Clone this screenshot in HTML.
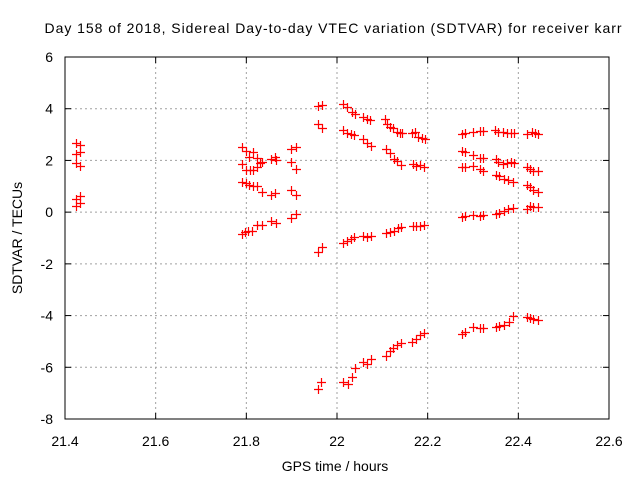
<!DOCTYPE html>
<html><head><meta charset="utf-8"><style>
html,body{margin:0;padding:0;background:#fff}
svg{display:block;font-family:"Liberation Sans",sans-serif}
</style></head><body>
<svg id="chart" width="640" height="480" viewBox="0 0 640 480" xmlns="http://www.w3.org/2000/svg">
<rect width="640" height="480" fill="#fff"/>
<text x="333" y="33" font-size="14" text-anchor="middle" textLength="577">Day 158 of 2018, Sidereal Day-to-day VTEC variation (SDTVAR) for receiver karr</text>
<g id="grid"></g>
<g id="axes"></g>
<g id="marks"></g>
<text x="335" y="471" font-size="14" text-anchor="middle">GPS time / hours</text>
<text x="0" y="0" font-size="14" text-anchor="middle" transform="translate(22,238) rotate(-90)">SDTVAR / TECUs</text>
</svg>
<script>
const xTicks=[21.4,21.6,21.8,22,22.2,22.4,22.6];
const xTickLabels=["21.4","21.6","21.8","22","22.2","22.4","22.6"];
const yTicks=[-8,-6,-4,-2,0,2,4,6];
const yTickLabels=["-8","-6","-4","-2","0","2","4","6"];
const times=[
21.424,21.433,21.424,21.433,21.424,21.433,21.424,21.433,21.424,21.433,
21.790,21.799,21.790,21.806,21.815,21.824,21.830,21.835,21.799,21.808,21.815,21.823,21.854,21.863,21.865,21.899,21.909,21.899,21.909,
21.790,21.799,21.806,21.815,21.824,21.834,21.854,21.863,21.899,21.909,
21.790,21.797,21.804,21.813,21.824,21.834,21.854,21.865,21.899,21.909,
21.959,21.966,21.957,21.966,21.959,21.966,21.959,21.965,
22.014,22.021,22.032,22.040,22.058,22.066,22.073,22.106,22.111,22.117,22.124,22.132,22.139,22.143,22.165,22.172,22.179,22.187,22.194,
22.014,22.021,22.030,22.038,22.058,22.067,22.074,22.108,22.117,22.126,22.133,22.141,22.167,22.174,22.183,22.192,
22.014,22.021,22.030,22.038,22.058,22.067,22.075,22.108,22.117,22.126,22.135,22.141,22.167,22.174,22.183,22.192,
22.014,22.024,22.034,22.040,22.057,22.066,22.075,22.108,22.117,22.124,22.132,22.141,22.166,22.174,22.183,22.192,
22.276,22.282,22.301,22.315,22.323,22.349,22.356,22.366,22.374,22.383,22.391,22.419,22.430,22.437,22.443,
22.276,22.282,22.301,22.315,22.323,22.350,22.356,22.366,22.374,22.383,22.391,22.419,22.426,22.433,22.443,
22.276,22.282,22.301,22.315,22.323,22.350,22.358,22.368,22.378,22.389,22.419,22.426,22.433,22.443,
22.276,22.282,22.301,22.315,22.323,22.350,22.358,22.368,22.378,22.389,22.419,22.426,22.433,22.443,
22.276,22.282,22.301,22.315,22.323,22.350,22.358,22.368,22.380,22.389,22.419,22.426,22.433,22.443
];
const values=[
2.66,2.60,2.25,2.33,1.90,1.80,0.51,0.62,0.24,0.35,
2.53,2.38,1.86,2.14,2.31,2.08,1.91,1.93,1.63,1.63,1.63,1.76,2.04,2.14,2.02,2.43,2.53,1.95,1.67,
1.18,1.14,1.05,1.01,1.01,0.79,0.66,0.73,0.86,0.65,
-0.86,-0.76,-0.72,-0.72,-0.50,-0.50,-0.34,-0.43,-0.21,-0.07,
4.10,4.14,3.40,3.27,-1.55,-1.34,-6.85,-6.58,
4.18,4.08,3.88,3.78,3.67,3.59,3.56,3.59,3.41,3.28,3.24,3.11,3.05,3.05,3.07,3.11,2.92,2.86,2.82,
3.18,3.05,3.01,2.98,2.83,2.66,2.56,2.44,2.28,2.06,1.99,1.82,1.86,1.78,1.82,1.73,
-1.20,-1.10,-1.04,-0.95,-0.92,-0.95,-0.92,-0.82,-0.76,-0.72,-0.63,-0.59,-0.54,-0.54,-0.54,-0.51,
-6.56,-6.64,-6.39,-6.04,-5.81,-5.87,-5.69,-5.55,-5.36,-5.26,-5.14,-5.07,-5.01,-4.92,-4.75,-4.66,
3.02,3.07,3.09,3.15,3.15,3.18,3.09,3.09,3.05,3.05,3.05,3.01,3.09,3.05,3.02,
2.37,2.32,2.21,2.11,2.11,2.06,1.95,1.86,1.91,1.95,1.89,1.76,1.68,1.59,1.59,
1.73,1.76,1.78,1.67,1.59,1.44,1.40,1.27,1.24,1.18,1.05,0.96,0.86,0.77,
-0.20,-0.15,-0.11,-0.15,-0.11,-0.08,-0.02,0.06,0.11,0.17,0.14,0.23,0.18,0.18,
-4.71,-4.62,-4.45,-4.49,-4.49,-4.45,-4.40,-4.36,-4.26,-4.02,-4.04,-4.11,-4.13,-4.17
];
const L=65,R=609,T=57,B=419,xMin=21.4,xMax=22.6,yMin=-8,yMax=6;
function xs(t){return L+(t-xMin)/(xMax-xMin)*(R-L);}
function ys(v){return B-(v-yMin)/(yMax-yMin)*(B-T);}
const NS="http://www.w3.org/2000/svg";
function mk(tag,attrs,parent){const e=document.createElementNS(NS,tag);for(const k in attrs)e.setAttribute(k,attrs[k]);parent.appendChild(e);return e;}
const grid=document.getElementById('grid'),axes=document.getElementById('axes'),marks=document.getElementById('marks');
xTicks.forEach((t,i)=>{const x=xs(t);
 if(i>0&&i<xTicks.length-1){const g=mk('line',{x1:x,y1:T,x2:x,y2:B,stroke:'#a0a0a0','stroke-dasharray':'2,3'},grid);
 
 }
 mk('line',{x1:x,y1:B,x2:x,y2:B-6,stroke:'#000'},axes);
 mk('line',{x1:x,y1:T,x2:x,y2:T+6,stroke:'#000'},axes);
 const tx=mk('text',{x:x,y:B+27,'font-size':'14','text-anchor':'middle'},axes);tx.textContent=xTickLabels[i];
 
 
});
yTicks.forEach((v,i)=>{const y=ys(v);
 if(i>0&&i<yTicks.length-1){const g=mk('line',{x1:L,y1:y,x2:R,y2:y,stroke:'#a0a0a0','stroke-dasharray':'2,3'},grid);
 
 }
 mk('line',{x1:L,y1:y,x2:L+6,y2:y,stroke:'#000'},axes);
 mk('line',{x1:R,y1:y,x2:R-6,y2:y,stroke:'#000'},axes);
 const tx=mk('text',{x:L-12,y:y+5,'font-size':'14','text-anchor':'end'},axes);tx.textContent=yTickLabels[i];
 
 
});
const frame=mk('rect',{x:L,y:T,width:R-L,height:B-T,fill:'none',stroke:'#000','stroke-width':'1'},axes);


times.forEach((t,i)=>{const x=Math.round(xs(t))+0.5,y=Math.round(ys(values[i]))+0.5;
 const p=mk('path',{d:`M${x-4.5},${y}H${x+4.5}M${x},${y-4.5}V${y+4.5}`,stroke:'#ff0000','stroke-width':'1.2',fill:'none'},marks);
 
 
});
</script>
</body></html>
